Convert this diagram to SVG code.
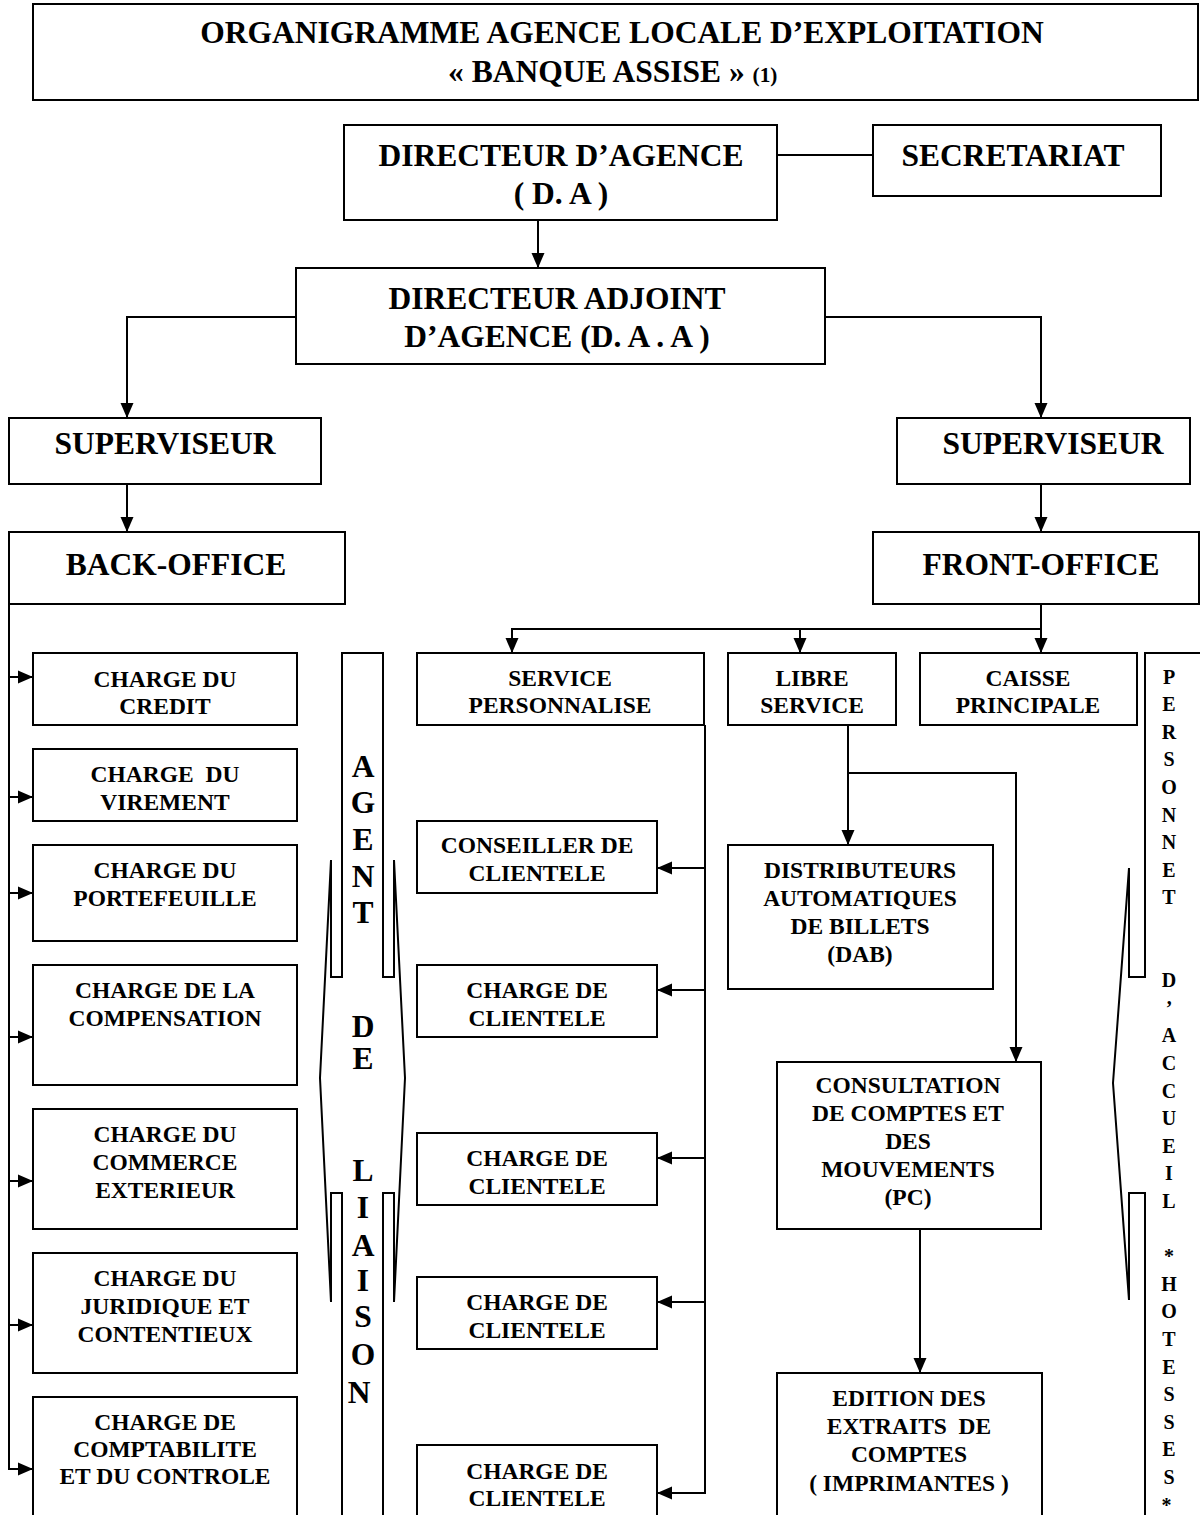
<svg xmlns="http://www.w3.org/2000/svg" width="1200" height="1515" viewBox="0 0 1200 1515" font-family="Liberation Serif, Times New Roman, serif" font-weight="bold">
<style>
text{font-family:'Liberation Serif','Times New Roman',serif;font-weight:bold;fill:#000;text-anchor:middle;white-space:pre}
.big{font-size:31.5px}
.sm{font-size:23.5px}
.vt{font-size:20px}
.box{fill:#fff;stroke:#000;stroke-width:2}
.ln{fill:none;stroke:#000;stroke-width:2}
</style>
<defs>
<marker id="ah" markerUnits="userSpaceOnUse" markerWidth="16" markerHeight="14" refX="15" refY="7" orient="auto">
<path d="M0,0.5 L15,7 L0,13.5 z" fill="#000"/>
</marker>
</defs>
<rect width="1200" height="1515" fill="#fff"/>

<g id="title">
<rect class="box" x="33" y="4" width="1165" height="96"/>
<text class="big" x="622" y="43">ORGANIGRAMME AGENCE LOCALE D’EXPLOITATION</text>
<text class="big" x="448" y="82" style="text-anchor:start">« BANQUE ASSISE » <tspan style="font-size:21.3px">(1)</tspan></text>
</g>

<g id="connectors">
<path class="ln" d="M777,155 H873"/>
<path class="ln" d="M538,220 V268" marker-end="url(#ah)"/>
<path class="ln" d="M296,317 H127 V418" marker-end="url(#ah)"/>
<path class="ln" d="M825,317 H1041 V418" marker-end="url(#ah)"/>
<path class="ln" d="M127,484 V532" marker-end="url(#ah)"/>
<path class="ln" d="M1041,484 V532" marker-end="url(#ah)"/>
<path class="ln" d="M1041,604 V653" marker-end="url(#ah)"/>
<path class="ln" d="M1041,629 H512 V653" marker-end="url(#ah)"/>
<path class="ln" d="M800,629 V653" marker-end="url(#ah)"/>
<path class="ln" d="M9,604 V1469 H33" marker-end="url(#ah)"/>
<path class="ln" d="M9,677 H33" marker-end="url(#ah)"/>
<path class="ln" d="M9,797 H33" marker-end="url(#ah)"/>
<path class="ln" d="M9,893 H33" marker-end="url(#ah)"/>
<path class="ln" d="M9,1037 H33" marker-end="url(#ah)"/>
<path class="ln" d="M9,1181 H33" marker-end="url(#ah)"/>
<path class="ln" d="M9,1325 H33" marker-end="url(#ah)"/>
<path class="ln" d="M705,725 V1493 H657" marker-end="url(#ah)"/>
<path class="ln" d="M705,868 H657" marker-end="url(#ah)"/>
<path class="ln" d="M705,990 H657" marker-end="url(#ah)"/>
<path class="ln" d="M705,1158 H657" marker-end="url(#ah)"/>
<path class="ln" d="M705,1302 H657" marker-end="url(#ah)"/>
<path class="ln" d="M848,725 V845" marker-end="url(#ah)"/>
<path class="ln" d="M848,773 H1016 V1062" marker-end="url(#ah)"/>
<path class="ln" d="M920,1229 V1373" marker-end="url(#ah)"/>
</g>

<g id="directeur">
<rect class="box" x="344" y="125" width="433" height="95"/>
<text class="big" x="561" y="166">DIRECTEUR D’AGENCE</text>
<text class="big" x="561" y="204">( D. A )</text>
</g>
<g id="secretariat">
<rect class="box" x="873" y="125" width="288" height="71"/>
<text class="big" x="1013" y="166">SECRETARIAT</text>
</g>
<g id="adjoint">
<rect class="box" x="296" y="268" width="529" height="96"/>
<text class="big" x="557" y="309">DIRECTEUR ADJOINT</text>
<text class="big" x="557" y="347">D’AGENCE (D. A . A )</text>
</g>
<g id="superviseur-gauche">
<rect class="box" x="9" y="418" width="312" height="66"/>
<text class="big" x="165" y="454">SUPERVISEUR</text>
</g>
<g id="superviseur-droit">
<rect class="box" x="897" y="418" width="293" height="66"/>
<text class="big" x="1053" y="454">SUPERVISEUR</text>
</g>
<g id="back-office">
<rect class="box" x="9" y="532" width="336" height="72"/>
<text class="big" x="176" y="575">BACK-OFFICE</text>
</g>
<g id="front-office">
<rect class="box" x="873" y="532" width="326" height="72"/>
<text class="big" x="1041" y="575">FRONT-OFFICE</text>
</g>

<g id="charge-credit">
<rect class="box" x="33" y="653" width="264" height="72"/>
<text class="sm" x="165" y="687">CHARGE DU</text>
<text class="sm" x="165" y="714">CREDIT</text>
</g>
<g id="charge-virement">
<rect class="box" x="33" y="749" width="264" height="72"/>
<text class="sm" x="165" y="782">CHARGE  DU</text>
<text class="sm" x="165" y="810">VIREMENT</text>
</g>
<g id="charge-portefeuille">
<rect class="box" x="33" y="845" width="264" height="96"/>
<text class="sm" x="165" y="878">CHARGE DU</text>
<text class="sm" x="165" y="906">PORTEFEUILLE</text>
</g>
<g id="charge-compensation">
<rect class="box" x="33" y="965" width="264" height="120"/>
<text class="sm" x="165" y="998">CHARGE DE LA</text>
<text class="sm" x="165" y="1026">COMPENSATION</text>
</g>
<g id="charge-commerce">
<rect class="box" x="33" y="1109" width="264" height="120"/>
<text class="sm" x="165" y="1142">CHARGE DU</text>
<text class="sm" x="165" y="1170">COMMERCE</text>
<text class="sm" x="165" y="1198">EXTERIEUR</text>
</g>
<g id="charge-juridique">
<rect class="box" x="33" y="1253" width="264" height="120"/>
<text class="sm" x="165" y="1286">CHARGE DU</text>
<text class="sm" x="165" y="1314">JURIDIQUE ET</text>
<text class="sm" x="165" y="1342">CONTENTIEUX</text>
</g>
<g id="charge-comptabilite">
<rect class="box" x="33" y="1397" width="264" height="140"/>
<text class="sm" x="165" y="1430">CHARGE DE</text>
<text class="sm" x="165" y="1457">COMPTABILITE</text>
<text class="sm" x="165" y="1484">ET DU CONTROLE</text>
</g>

<g id="agent-liaison">
<path class="ln" d="M342,1515 V1193 H331 V1302 L320,1078 L331,860 V977 H342 V653 H383 V977 H394 V860 L405,1078 L394,1302 V1193 H383 V1515"/>
<text class="big">
<tspan x="363" y="777">A</tspan><tspan x="363" y="813">G</tspan><tspan x="363" y="850">E</tspan><tspan x="363" y="887">N</tspan><tspan x="363" y="923">T</tspan><tspan x="363" y="1037">D</tspan><tspan x="363" y="1069">E</tspan><tspan x="363" y="1181">L</tspan><tspan x="363" y="1218">I</tspan><tspan x="363" y="1256">A</tspan><tspan x="363" y="1291">I</tspan><tspan x="363" y="1327">S</tspan><tspan x="363" y="1365">O</tspan><tspan x="363" y="1403">N</tspan>
</text>
</g>

<g id="service-personnalise">
<rect class="box" x="417" y="653" width="287" height="72"/>
<text class="sm" x="560" y="686">SERVICE</text>
<text class="sm" x="560" y="713">PERSONNALISE</text>
</g>
<g id="libre-service">
<rect class="box" x="728" y="653" width="168" height="72"/>
<text class="sm" x="812" y="686">LIBRE</text>
<text class="sm" x="812" y="713">SERVICE</text>
</g>
<g id="caisse-principale">
<rect class="box" x="920" y="653" width="217" height="72"/>
<text class="sm" x="1028" y="686">CAISSE</text>
<text class="sm" x="1028" y="713">PRINCIPALE</text>
</g>

<g id="conseiller-clientele">
<rect class="box" x="417" y="821" width="240" height="72"/>
<text class="sm" x="537" y="853">CONSEILLER DE</text>
<text class="sm" x="537" y="881">CLIENTELE</text>
</g>
<g id="charge-clientele-1">
<rect class="box" x="417" y="965" width="240" height="72"/>
<text class="sm" x="537" y="998">CHARGE DE</text>
<text class="sm" x="537" y="1026">CLIENTELE</text>
</g>
<g id="charge-clientele-2">
<rect class="box" x="417" y="1133" width="240" height="72"/>
<text class="sm" x="537" y="1166">CHARGE DE</text>
<text class="sm" x="537" y="1194">CLIENTELE</text>
</g>
<g id="charge-clientele-3">
<rect class="box" x="417" y="1277" width="240" height="72"/>
<text class="sm" x="537" y="1310">CHARGE DE</text>
<text class="sm" x="537" y="1338">CLIENTELE</text>
</g>
<g id="charge-clientele-4">
<rect class="box" x="417" y="1445" width="240" height="90"/>
<text class="sm" x="537" y="1479">CHARGE DE</text>
<text class="sm" x="537" y="1506">CLIENTELE</text>
</g>

<g id="dab">
<rect class="box" x="728" y="845" width="265" height="144"/>
<text class="sm" x="860" y="878">DISTRIBUTEURS</text>
<text class="sm" x="860" y="906">AUTOMATIQUES</text>
<text class="sm" x="860" y="934">DE BILLETS</text>
<text class="sm" x="860" y="962">(DAB)</text>
</g>
<g id="consultation">
<rect class="box" x="777" y="1062" width="264" height="167"/>
<text class="sm" x="908" y="1093">CONSULTATION</text>
<text class="sm" x="908" y="1121">DE COMPTES ET</text>
<text class="sm" x="908" y="1149">DES</text>
<text class="sm" x="908" y="1177">MOUVEMENTS</text>
<text class="sm" x="908" y="1205">(PC)</text>
</g>
<g id="edition">
<rect class="box" x="777" y="1373" width="265" height="170"/>
<text class="sm" x="909" y="1406">EDITION DES</text>
<text class="sm" x="909" y="1434">EXTRAITS  DE</text>
<text class="sm" x="909" y="1462">COMPTES</text>
<text class="sm" x="909" y="1491">( IMPRIMANTES )</text>
</g>

<g id="personnel-accueil">
<path class="ln" d="M1145,1515 V1193 H1129 V1300 L1113,1083 L1129,868 V977 H1145 V653 H1202"/>
<text class="vt">
<tspan x="1169" y="683.5">P</tspan><tspan x="1169" y="711.1">E</tspan><tspan x="1169" y="738.7">R</tspan><tspan x="1169" y="766.3">S</tspan><tspan x="1169" y="793.9">O</tspan><tspan x="1169" y="821.5">N</tspan><tspan x="1169" y="849.1">N</tspan><tspan x="1169" y="876.7">E</tspan><tspan x="1169" y="904.3">T</tspan><tspan x="1169" y="987.1">D</tspan><tspan x="1169" y="1014.7">’</tspan><tspan x="1169" y="1042.3">A</tspan><tspan x="1169" y="1069.9">C</tspan><tspan x="1169" y="1097.5">C</tspan><tspan x="1169" y="1125.1">U</tspan><tspan x="1169" y="1152.7">E</tspan><tspan x="1169" y="1180.3">I</tspan><tspan x="1169" y="1207.9">L</tspan><tspan x="1169" y="1263.1">*</tspan><tspan x="1169" y="1290.7">H</tspan><tspan x="1169" y="1318.3">O</tspan><tspan x="1169" y="1345.9">T</tspan><tspan x="1169" y="1373.5">E</tspan><tspan x="1169" y="1401.1">S</tspan><tspan x="1169" y="1428.7">S</tspan><tspan x="1169" y="1456.3">E</tspan><tspan x="1169" y="1483.9">S</tspan><tspan x="1169" y="1511.5">*</tspan>
</text>
</g>
</svg>
